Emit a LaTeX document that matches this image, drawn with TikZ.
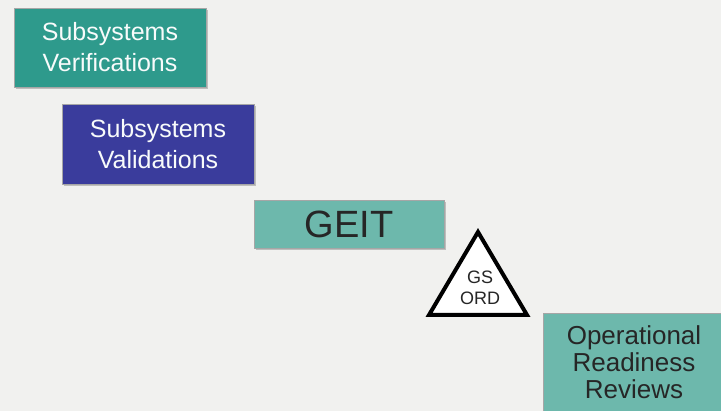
\documentclass[tikz,border=0pt]{standalone}
\usepackage{fontspec}
\setmainfont{Liberation Sans}
\usetikzlibrary{shadows}
\definecolor{bgcol}{HTML}{F1F1EF}
\definecolor{tealdark}{HTML}{2E9A8C}
\definecolor{teallight}{HTML}{6DB8AC}
\definecolor{bluebox}{HTML}{3A3C9C}
\tikzset{
  stagebox/.style={draw=black!35, line width=0.8pt, minimum width=192pt, inner sep=0pt,
    align=center, drop shadow={shadow xshift=1.5pt, shadow yshift=-2.5pt, opacity=0.45}},
  whitetext/.style={text=white!95!teallight, font=\fontsize{25}{31}\selectfont},
  blacktext/.style={text=black!85, font=\fontsize{26}{27}\selectfont}
}
\begin{document}
\begin{tikzpicture}[x=1pt,y=-1pt]
  \fill[bgcol] (0,0) rectangle (721,411);
  \useasboundingbox (0,0) rectangle (721,411);
  % Stages, top left to bottom right
  \node[stagebox, whitetext, fill=tealdark, minimum height=79pt] (verif) at (110,47.5)
    {Subsystems\\Verifications};
  \node[stagebox, whitetext, fill=bluebox, minimum height=80pt] (valid) at (158,144)
    {Subsystems\\Validations};
  \node[stagebox, fill=teallight, minimum width=190pt, minimum height=48pt,
    text=black!85, font=\fontsize{38}{40}\selectfont] (geit) at (349,224) {GEIT};
  \node[stagebox, blacktext, fill=teallight, minimum width=182pt, minimum height=98pt] (orr)
    at (634,362) {Operational\\Readiness\\Reviews};
  % GS ORD milestone
  \coordinate (apex) at (478,232);
  \coordinate (left) at (429,315);
  \coordinate (right) at (527,315);
  \draw[line width=4pt, line join=miter, fill=white] (apex) -- (right) -- (left) -- cycle;
  \node[text=black!85, font=\fontsize{18}{21}\selectfont, align=center] (gsord) at (480,288)
    {GS\\ORD};
\end{tikzpicture}
\end{document}
